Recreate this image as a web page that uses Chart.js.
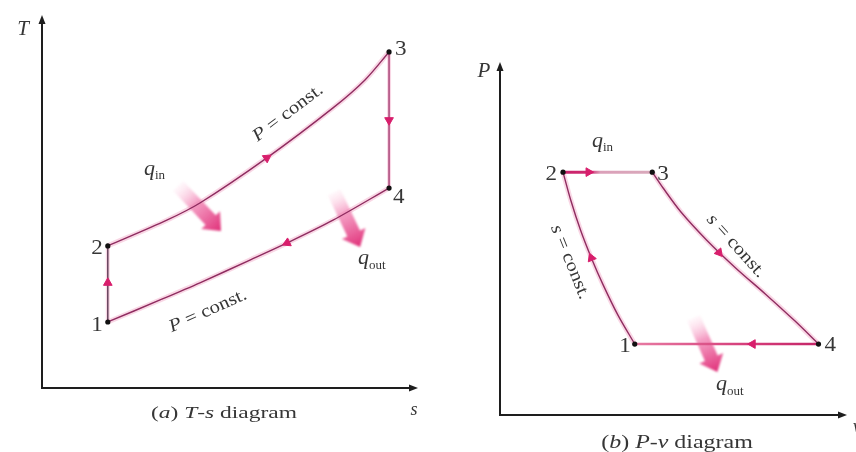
<!DOCTYPE html>
<html>
<head>
<meta charset="utf-8">
<script src="https://cdn.jsdelivr.net/npm/chart.js@4.4.0/dist/chart.umd.min.js"></script>
<style>
  html, body { margin: 0; padding: 0; background: #fff; overflow: hidden; }
  #wrap { position: relative; width: 856px; height: 452px; }
  canvas { position: absolute; top: 0; }
  #ts { left: 0; }
  #pv { left: 430px; }
</style>
</head>
<body>
<div id="wrap">
  <canvas id="ts" width="430" height="452"></canvas>
  <canvas id="pv" width="426" height="452"></canvas>
</div>
<script>
// ---- Brayton cycle, T-s diagram (entropy s, temperature T; arbitrary units 0..10) ----
const tsStateNames = ['1', '2', '3', '4'];
const tsStateS = [1.75, 1.75, 9.23, 9.23];
const tsStateT = [1.77, 3.81, 9.01, 5.36];
// 2 -> 3 constant-pressure heat addition
const tsHeatAddS = [1.75, 3.32, 4.20, 5.98, 7.74, 8.59, 9.23];
const tsHeatAddT = [3.81, 4.50, 4.96, 6.17, 7.51, 8.26, 9.01];
// 4 -> 1 constant-pressure heat rejection
const tsHeatRejS = [9.23, 7.74, 6.52, 5.53, 4.20, 3.14, 1.75];
const tsHeatRejT = [5.36, 4.50, 3.89, 3.43, 2.82, 2.36, 1.77];
// process direction markers (position, heading in degrees clockwise from up)
const tsArrowS = [1.75, 5.98, 9.23, 6.52];
const tsArrowT = [2.82, 6.17, 7.18, 3.89];
const tsArrowDir = [0, 56, 180, 245];

// ---- Brayton cycle, P-v diagram (specific volume v, pressure P; arbitrary units 0..10) ----
const pvStateNames = ['1', '2', '3', '4'];
const pvStateV = [3.85, 1.80, 4.35, 9.10];
const pvStateP = [2.01, 6.88, 6.88, 2.01];
// 1 -> 2 isentropic compression
const pvCompV = [3.85, 3.37, 2.95, 2.61, 2.30, 2.02, 1.80];
const pvCompP = [2.01, 2.83, 3.68, 4.45, 5.24, 6.09, 6.88];
// 3 -> 4 isentropic expansion
const pvExpV = [4.35, 4.66, 5.17, 5.90, 6.74, 7.58, 8.43, 9.10];
const pvExpP = [6.88, 6.43, 5.75, 4.96, 4.16, 3.43, 2.66, 2.01];
const pvArrowV = [2.53, 6.26, 7.22, 2.61];
const pvArrowP = [6.88, 4.60, 2.01, 4.45];
const pvArrowDir = [90, 140, 270, 338];

const SERIF = '"Liberation Serif", "Times New Roman", serif';
const INK = '#363636';
const CORE = '#8f2c60';
const HALO = 'rgba(238,140,180,0.35)';
const MARK = '#d81e6c';

const xy = (xs, ys) => xs.map((x, i) => ({ x, y: ys[i] }));

// Mixed-style text run (italic symbols, subscripts), optionally rotated and widened
function drawParts(ctx, x, y, parts, o = {}) {
  const size = o.size || 18, sx = o.sx || 1;
  const fontOf = p => `${p.italic ? 'italic ' : ''}${p.size || size}px ${SERIF}`;
  ctx.save();
  ctx.fillStyle = o.color || INK;
  ctx.textBaseline = o.baseline || 'alphabetic';
  let w = 0;
  for (const p of parts) { ctx.font = fontOf(p); w += ctx.measureText(p.t).width; }
  ctx.translate(x, y);
  if (o.rotate) ctx.rotate(o.rotate * Math.PI / 180);
  ctx.scale(sx, 1);
  let cx = o.align === 'center' ? -w / 2 : o.align === 'right' ? -w : 0;
  for (const p of parts) {
    ctx.font = fontOf(p);
    ctx.fillText(p.t, cx, p.dy || 0);
    cx += ctx.measureText(p.t).width;
  }
  ctx.restore();
}

// Broad shaded arrow showing heat crossing the boundary
function heatArrow(ctx, x0, y0, x1, y1) {
  const len = Math.hypot(x1 - x0, y1 - y0);
  const ang = Math.atan2(y1 - y0, x1 - x0);
  const sw = 14, hw = 26, hl = 15;
  ctx.save();
  ctx.translate(x0, y0);
  ctx.rotate(ang);
  const g = ctx.createLinearGradient(0, 0, len, 0);
  g.addColorStop(0, 'rgba(255,225,238,0.25)');
  g.addColorStop(0.4, 'rgba(242,140,185,0.85)');
  g.addColorStop(1, '#e02f78');
  ctx.fillStyle = g;
  ctx.filter = 'blur(0.8px)';
  ctx.beginPath();
  ctx.moveTo(0, -sw / 2);
  ctx.lineTo(len - hl, -sw / 2);
  ctx.lineTo(len - hl, -hw / 2);
  ctx.lineTo(len, 0);
  ctx.lineTo(len - hl, hw / 2);
  ctx.lineTo(len - hl, sw / 2);
  ctx.lineTo(0, sw / 2);
  ctx.closePath();
  ctx.fill();
  ctx.restore();
}

const cycleDecor = {
  id: 'cycleDecor',
  beforeDatasetsDraw(chart, args, opts) {
    const { ctx } = chart;
    const xs = chart.scales.x, ys = chart.scales.y;
    const a = chart.chartArea;
    // axes with arrowheads
    const ox = xs.getPixelForValue(0), oy = ys.getPixelForValue(0);
    const xEnd = a.right - (opts.xInset || 0), yEnd = a.top;
    ctx.save();
    ctx.strokeStyle = '#1e1e1e';
    ctx.fillStyle = '#1e1e1e';
    ctx.lineWidth = 2;
    ctx.beginPath();
    ctx.moveTo(ox, yEnd + 6);
    ctx.lineTo(ox, oy);
    ctx.lineTo(xEnd - 6, oy);
    ctx.stroke();
    ctx.beginPath();
    ctx.moveTo(ox, yEnd); ctx.lineTo(ox - 3.5, yEnd + 9); ctx.lineTo(ox + 3.5, yEnd + 9);
    ctx.closePath(); ctx.fill();
    ctx.beginPath();
    ctx.moveTo(xEnd, oy); ctx.lineTo(xEnd - 9, oy - 3.5); ctx.lineTo(xEnd - 9, oy + 3.5);
    ctx.closePath(); ctx.fill();
    ctx.restore();
    for (const h of opts.heat || []) {
      heatArrow(ctx, xs.getPixelForValue(h.from[0]), ys.getPixelForValue(h.from[1]),
                     xs.getPixelForValue(h.to[0]), ys.getPixelForValue(h.to[1]));
    }
  },
  afterDatasetsDraw(chart, args, opts) {
    const { ctx } = chart;
    const xs = chart.scales.x, ys = chart.scales.y;
    // state numbers beside each state point
    (opts.states || []).forEach(s => {
      const px = xs.getPixelForValue(s.x) + s.dx;
      const py = ys.getPixelForValue(s.y) + s.dy;
      drawParts(ctx, px, py, [{ t: s.name }], { size: 21, sx: 1.1, align: s.align });
    });
    for (const t of opts.texts || []) {
      drawParts(ctx, t.x, t.y, t.parts, t);
    }
  }
};

function lineSet(data, color, width, order) {
  return { data, showLine: true, borderColor: color, borderWidth: width, pointRadius: 0,
           tension: 0.3, fill: false, order, clip: false };
}

function gradientLine(x0, x1, stops) {
  return (c) => {
    const chart = c.chart;
    if (!chart.chartArea) return stops[0][1];
    const xs = chart.scales.x;
    const g = chart.ctx.createLinearGradient(xs.getPixelForValue(x0), 0, xs.getPixelForValue(x1), 0);
    stops.forEach(([p, col]) => g.addColorStop(p, col));
    return g;
  };
}

function makeChart(id, datasets, padding, decor) {
  return new Chart(document.getElementById(id), {
    type: 'scatter',
    data: { datasets },
    options: {
      responsive: false,
      animation: false,
      events: [],
      layout: { padding },
      scales: {
        x: { type: 'linear', min: 0, max: 10, display: false },
        y: { type: 'linear', min: 0, max: 10, display: false }
      },
      plugins: { legend: { display: false }, tooltip: { enabled: false }, cycleDecor: decor }
    },
    plugins: [cycleDecor]
  });
}

// ---------- (a) T-s diagram ----------
const tsStates = xy(tsStateS, tsStateT);
const tsAdd = xy(tsHeatAddS, tsHeatAddT);
const tsRej = xy(tsHeatRejS, tsHeatRejT);
const tsComp = [tsStates[0], tsStates[1]];
const tsExp = [tsStates[2], tsStates[3]];

makeChart('ts', [
  lineSet(tsAdd, HALO, 5, 6),
  lineSet(tsRej, HALO, 5, 6),
  lineSet(tsComp, HALO, 4, 6),
  lineSet(tsExp, HALO, 4, 6),
  lineSet(tsAdd, CORE, 1.4, 4),
  lineSet(tsRej, CORE, 1.4, 4),
  lineSet(tsComp, '#5e3a55', 1.4, 4),
  lineSet(tsExp, '#a3386e', 1.4, 4),
  { data: tsStates, showLine: false, pointRadius: 2.6, pointBackgroundColor: '#111',
    pointBorderWidth: 0, order: 1, clip: false },
  { data: xy(tsArrowS, tsArrowT), showLine: false, pointStyle: 'triangle', pointRadius: 5,
    pointRotation: tsArrowDir, pointBackgroundColor: MARK, pointBorderColor: MARK,
    pointBorderWidth: 1, order: 0, clip: false }
], { left: 42, top: 15, right: 12, bottom: 64 }, {
  heat: [
    { from: [3.62, 5.42], to: [4.76, 4.21] },
    { from: [7.77, 5.25], to: [8.46, 3.78] }
  ],
  states: [
    { name: tsStateNames[0], x: tsStateS[0], y: tsStateT[0], dx: -5, dy: 9, align: 'right' },
    { name: tsStateNames[1], x: tsStateS[1], y: tsStateT[1], dx: -5, dy: 8, align: 'right' },
    { name: tsStateNames[2], x: tsStateS[2], y: tsStateT[2], dx: 6, dy: 3, align: 'left' },
    { name: tsStateNames[3], x: tsStateS[3], y: tsStateT[3], dx: 4, dy: 15, align: 'left' }
  ],
  texts: [
    { x: 23, y: 35, parts: [{ t: 'T', italic: true }], size: 21, align: 'center' },
    { x: 414, y: 415, parts: [{ t: 's', italic: true }], size: 18, align: 'center' },
    { x: 144, y: 175, parts: [{ t: 'q', italic: true }, { t: 'in', size: 13, dy: 4 }], size: 22 },
    { x: 358, y: 264, parts: [{ t: 'q', italic: true }, { t: 'out', size: 13, dy: 5 }], size: 22 },
    { x: 288, y: 113, parts: [{ t: 'P', italic: true }, { t: ' = const.' }], size: 18, sx: 1.15,
      align: 'center', baseline: 'middle', rotate: -37 },
    { x: 208, y: 311, parts: [{ t: 'P', italic: true }, { t: ' = const.' }], size: 18, sx: 1.15,
      align: 'center', baseline: 'middle', rotate: -24 },
    { x: 224, y: 418, parts: [{ t: '(' }, { t: 'a', italic: true }, { t: ') ' }, { t: 'T', italic: true },
      { t: '-' }, { t: 's', italic: true }, { t: ' diagram' }], size: 17, sx: 1.38, align: 'center' }
  ]
});

// ---------- (b) P-v diagram ----------
const pvStates = xy(pvStateV, pvStateP);
const pvComp = xy(pvCompV, pvCompP);
const pvExp = xy(pvExpV, pvExpP);
const pvAdd = [pvStates[1], pvStates[2]];
const pvRej = [pvStates[3], pvStates[0]];

makeChart('pv', [
  lineSet(pvComp, HALO, 5, 6),
  lineSet(pvExp, HALO, 5, 6),
  lineSet(pvComp, CORE, 1.4, 4),
  lineSet(pvExp, CORE, 1.4, 4),
  Object.assign(lineSet(pvAdd, gradientLine(pvStateV[1], pvStateV[2],
    [[0, '#c8226a'], [0.3, '#d02a70'], [0.42, '#dba0b9'], [1, '#d9a9bb']]), 3, 4), { tension: 0 }),
  Object.assign(lineSet(pvRej, gradientLine(pvStateV[3], pvStateV[0],
    [[0, '#c42668'], [0.35, '#d43a78'], [1, '#e77aa2']]), 2.4, 4), { tension: 0 }),
  { data: pvStates, showLine: false, pointRadius: 2.6, pointBackgroundColor: '#111',
    pointBorderWidth: 0, order: 1, clip: false },
  { data: xy(pvArrowV, pvArrowP), showLine: false, pointStyle: 'triangle', pointRadius: 5,
    pointRotation: pvArrowDir, pointBackgroundColor: MARK, pointBorderColor: MARK,
    pointBorderWidth: 1, order: 0, clip: false }
], { left: 70, top: 62, right: 0, bottom: 37 }, {
  xInset: 3,
  heat: [
    { from: [5.53, 2.75], to: [6.21, 1.22] }
  ],
  states: [
    { name: pvStateNames[0], x: pvStateV[0], y: pvStateP[0], dx: -4, dy: 8, align: 'right' },
    { name: pvStateNames[1], x: pvStateV[1], y: pvStateP[1], dx: -6, dy: 8, align: 'right' },
    { name: pvStateNames[2], x: pvStateV[2], y: pvStateP[2], dx: 5, dy: 8, align: 'left' },
    { name: pvStateNames[3], x: pvStateV[3], y: pvStateP[3], dx: 6, dy: 7, align: 'left' }
  ],
  texts: [
    { x: 54, y: 77, parts: [{ t: 'P', italic: true }], size: 21, align: 'center' },
    { x: 423, y: 432, parts: [{ t: 'v', italic: true }], size: 18 },
    { x: 162, y: 147, parts: [{ t: 'q', italic: true }, { t: 'in', size: 13, dy: 4 }], size: 22 },
    { x: 286, y: 390, parts: [{ t: 'q', italic: true }, { t: 'out', size: 13, dy: 5 }], size: 22 },
    { x: 306, y: 246, parts: [{ t: 's', italic: true }, { t: ' = const.' }], size: 18, sx: 1.15,
      align: 'center', baseline: 'middle', rotate: 48 },
    { x: 140, y: 262, parts: [{ t: 's', italic: true }, { t: ' = const.' }], size: 18, sx: 1.15,
      align: 'center', baseline: 'middle', rotate: 68 },
    { x: 247, y: 448, parts: [{ t: '(' }, { t: 'b', italic: true }, { t: ') ' }, { t: 'P', italic: true },
      { t: '-' }, { t: 'v', italic: true }, { t: ' diagram' }], size: 18, sx: 1.33, align: 'center' }
  ]
});
</script>
</body>
</html>
